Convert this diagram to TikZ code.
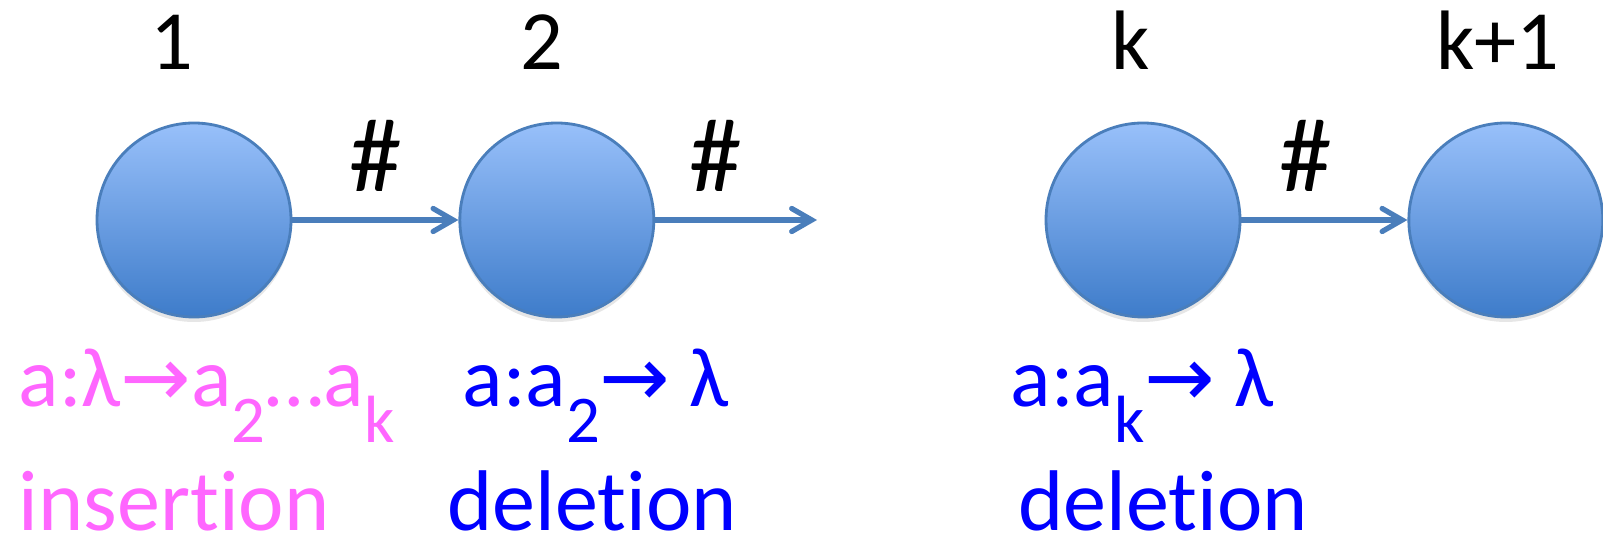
\documentclass[tikz,border=0pt]{standalone}
\usepackage{fontspec}
\setmainfont{Carlito}[Ligatures={NoCommon,NoRequired,NoContextual}]
\newfontfamily\arrowfont{DejaVu Sans}
\usetikzlibrary{arrows.meta,positioning,shadows}
\definecolor{stateTop}{RGB}{152,192,250}
\definecolor{stateBot}{RGB}{62,124,202}
\definecolor{stateEdge}{RGB}{74,126,187}
\definecolor{insPink}{RGB}{255,102,255}
\definecolor{delBlue}{RGB}{0,0,255}
\newcommand{\lowidx}[1]{\raisebox{-0.42em}{\fontsize{19}{19}\selectfont #1}}
\newcommand{\rarr}{{\arrowfont →}}

\begin{document}
\begin{tikzpicture}[
  font=\fontsize{24}{28}\selectfont,
  node distance=1.66cm,
  state/.style={circle, draw=stateEdge, line width=0.8pt, minimum size=1.94cm,
    inner sep=0pt, top color=stateTop, bottom color=stateBot,
    drop shadow={opacity=0.2, shadow xshift=0pt, shadow yshift=-0.5mm}},
  num/.style={anchor=base, inner sep=0pt},
  hash/.style={anchor=base, inner sep=0pt, yshift=2.8mm, font=\fontsize{30}{32}\selectfont},
  rule/.style={anchor=base west, inner sep=0pt, font=\fontsize{24}{28}\selectfont},
  kind/.style={anchor=base west, inner sep=0pt, font=\fontsize{24.5}{28}\selectfont},
  arr/.style={-{Straight Barb[length=2mm, width=2.3mm, line cap=round]},
    line width=1.5pt, draw=stateEdge}
]
\useasboundingbox (0,0) rectangle (16.03,-5.35);

\node[state] (s1) at (1.94,-2.20) {};
\node[state, right=of s1] (s2) {};
\node[state] (sk) at (11.43,-2.20) {};
\node[state, right=of sk] (sk1) {};
\coordinate (out2) at (8.17,-2.20);

\node[num] (n1) at (1.72,-0.70) {1};
\node[num] (n2) at (5.42,-0.70) {2};
\node[num] (nk) at (11.31,-0.70) {k};
\node[num] (nk1) at (14.98,-0.70) {k+1};

\draw[arr] (s1) -- node[hash] (h1) {\#} (s2);
\draw[arr] (s2) -- node[hash, xshift=-2mm] (h2) {\#} (out2);
\draw[arr] (sk) -- node[hash, xshift=-1.9mm] (hk) {\#} (sk1);

\node[rule, text=insPink] (r1) at (0.18,-4.07) {a:λ\rarr a\lowidx{2}…a\lowidx{k}};
\node[rule, text=delBlue] (r2) at (4.62,-4.07) {a:a\lowidx{2}\rarr{} λ};
\node[rule, text=delBlue] (rk) at (10.10,-4.07) {a:a\lowidx{k}\rarr{} λ};

\node[kind, text=insPink] (t1) at (0.18,-5.31) {insertion};
\node[kind, text=delBlue] (t2) at (4.47,-5.31) {deletion};
\node[kind, text=delBlue] (tk) at (10.18,-5.31) {deletion};

\end{tikzpicture}
\end{document}
